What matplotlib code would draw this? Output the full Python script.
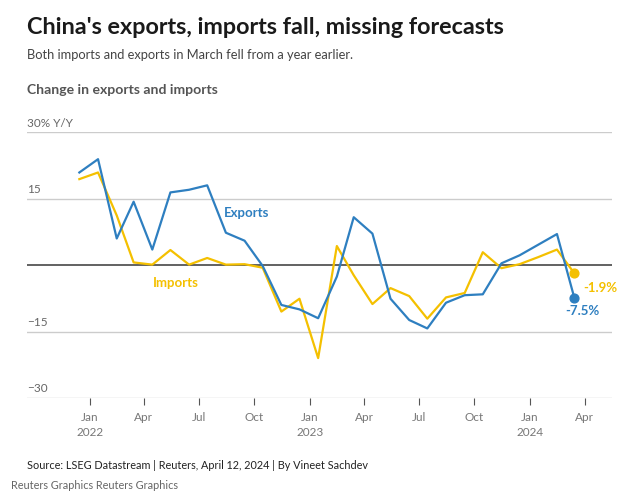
import matplotlib
matplotlib.use("Agg")
import matplotlib.pyplot as plt
import datetime as dt

plt.rcParams['font.family'] = ['Lato', 'DejaVu Sans']

# monthly y/y change, Dec 2021 .. Mar 2024
months = [dt.date(2021, 12, 15)] + [dt.date(2022 + (m // 12), m % 12 + 1, 15) for m in range(27)]
exports = [20.9, 23.9, 6.0, 14.3, 3.5, 16.4, 17.0, 18.0, 7.3, 5.5, -0.2, -9.0, -10.0, -12.0,
           -2.6, 10.8, 7.1, -7.6, -12.4, -14.3, -8.5, -6.8, -6.6, 0.4, 2.2, 4.6, 7.0, -7.5]
imports = [19.4, 20.9, 11.2, 0.6, 0.1, 3.4, 0.1, 1.6, 0.1, 0.2, -0.6, -10.5, -7.6, -21.0,
           4.3, -2.3, -8.8, -5.2, -7.0, -12.1, -7.3, -6.3, 2.9, -0.7, 0.2, 1.8, 3.5, -1.9]
yticks = [-30, -15, 15, 30]
ytick_labels = ['\u221230', '\u221215', '15', '30% Y/Y']

blue = '#2e7fc0'
yellow = '#f4c000'

fig = plt.figure(figsize=(6.4, 4.95), dpi=100)
ax = fig.add_axes([0.042, 0.196, 0.914, 0.537])

for v in yticks:
    ax.axhline(v, color='#cccccc', lw=1, zorder=1)
ax.axhline(0, color='#555555', lw=1.3, zorder=2)

ax.plot(months, imports, color=yellow, lw=1.6, zorder=3)
ax.plot(months, exports, color=blue, lw=1.6, zorder=4)
ax.scatter([months[-1]], [imports[-1]], color=yellow, s=40, zorder=5)
ax.scatter([months[-1]], [exports[-1]], color=blue, s=40, zorder=5)

ax.annotate('%.1f%%' % imports[-1], (months[-1], imports[-1]), xytext=(6, -6),
            textcoords='offset points', color=yellow, fontsize=9.5, fontweight='bold',
            ha='left', va='top')
ax.annotate('%.1f%%' % exports[-1], (months[-1], exports[-1]), xytext=(6, -5),
            textcoords='offset points', color=blue, fontsize=9.5, fontweight='bold',
            ha='center', va='top')
ax.text(dt.date(2022, 9, 19), 11.7, 'Exports', color=blue, fontsize=9.5, fontweight='bold',
        ha='center', va='center')
ax.text(dt.date(2022, 5, 24), -4.0, 'Imports', color=yellow, fontsize=9.5, fontweight='bold',
        ha='center', va='center')

for v, lab in zip(yticks, ytick_labels):
    ax.text(0, v + 0.8, lab, transform=ax.get_yaxis_transform(), color='#666666',
            fontsize=8.5, ha='left', va='bottom')

ax.set_ylim(-30, 30)
ax.set_xlim(dt.date(2021, 9, 19), dt.date(2024, 5, 16))
ax.set_yticks([])
xt = [dt.date(y, m, 1) for y in (2022, 2023, 2024) for m in (1, 4, 7, 10)][:10]
xl = []
for d in xt:
    s = d.strftime('%b')
    if d.month == 1:
        s += '\n%d' % d.year
    xl.append(s)
ax.set_xticks(xt)
ax.set_xticklabels(xl, color='#777777', fontsize=8.5, va='top', linespacing=1.5)
ax.tick_params(axis='x', length=5, color='#555555', pad=5)
for s in ax.spines.values():
    s.set_visible(False)

fig.text(0.042, 0.945, "China's exports, imports fall, missing forecasts", fontsize=16.8,
         fontweight='bold', color='#1a1a1a', va='center')
fig.text(0.042, 0.889, "Both imports and exports in March fell from a year earlier.", fontsize=9.3,
         color='#444444', va='center')
fig.text(0.042, 0.818, "Change in exports and imports", fontsize=10.1, fontweight='bold',
         color='#555555', va='center')
fig.text(0.042, 0.059, "Source: LSEG Datastream | Reuters, April 12, 2024 | By Vineet Sachdev",
         fontsize=7.8, color='#222222', va='center')
fig.text(0.017, 0.020, "Reuters Graphics Reuters Graphics", fontsize=7.8, color='#666666', va='center')

fig.savefig('out.png', dpi=100)
